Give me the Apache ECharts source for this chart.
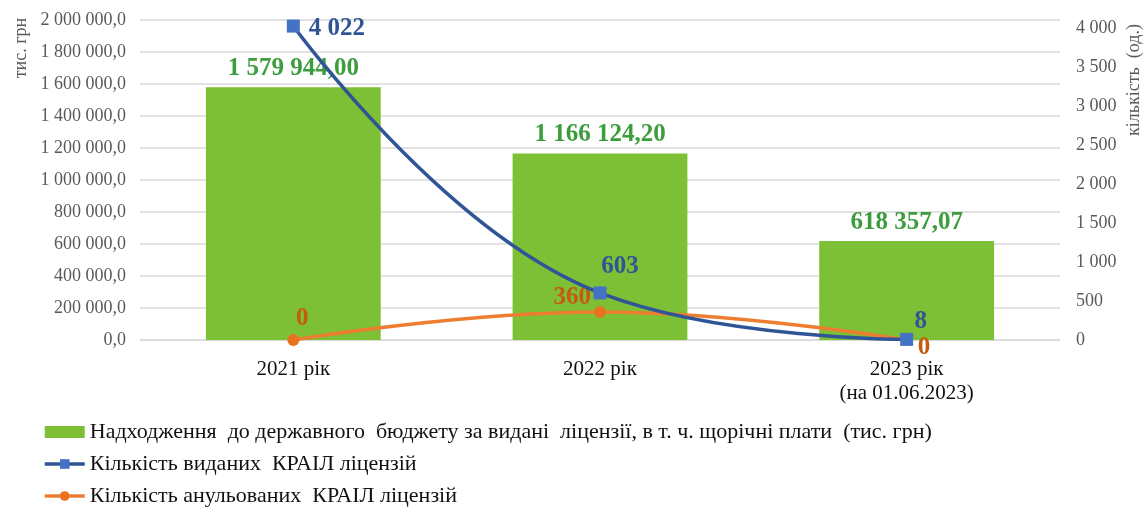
<!DOCTYPE html>
<html>
<head>
<meta charset="utf-8">
<script src="https://cdn.jsdelivr.net/npm/echarts@6/dist/echarts.min.js"></script>
<style>
  html, body { margin: 0; padding: 0; background: #fff; }
  #chart { width: 1144px; height: 510px; }
</style>
</head>
<body>
<div id="chart"></div>
<script>
var categories = ['2021 рік', '2022 рік', '2023 рік\n(на 01.06.2023)'];
var budgetIncome = [1579944.00, 1166124.20, 618357.07];
var issuedLicenses = [4022, 603, 8];
var cancelledLicenses = [0, 360, 0];

var seriesNames = [
    'Надходження  до державного  бюджету за видані  ліцензії, в т. ч. щорічні плати  (тис. грн)',
    'Кількість виданих  КРАІЛ ліцензій',
    'Кількість анульованих  КРАІЛ ліцензій'
];

var serif = '"Liberation Serif", "DejaVu Serif", serif';

function spaced(intStr) {
    return intStr.replace(/\B(?=(\d{3})+(?!\d))/g, ' ');
}

function fmtMoney(v, digits) {
    var parts = v.toFixed(digits).split('.');
    return spaced(parts[0]) + ',' + parts[1];
}

// label placement per point (style only)
var issuedLabelPos = [
    { position: 'right', offset: [4, 2] },
    { position: 'top', offset: [20, -2] },
    { position: 'top', offset: [14, 6] }
];
var cancelledLabelPos = [
    { position: 'top', offset: [9, 2] },
    { position: 'left', offset: [2, -14] },
    { position: 'right', offset: [0, 8] }
];

var chart = echarts.init(document.getElementById('chart'));

var option = {
    animation: false,
    backgroundColor: '#ffffff',
    grid: { left: 140, right: 84, top: 20, height: 320 },
    legend: {
        orient: 'vertical',
        left: 43,
        top: 421,
        height: 89,
        padding: 0,
        itemGap: 10,
        itemWidth: 40,
        itemHeight: 12,
        textStyle: { fontFamily: serif, fontSize: 22, color: '#111' },
        data: [
            { name: seriesNames[0], icon: 'rect', itemStyle: { color: '#7DC035' } },
            { name: seriesNames[1], lineStyle: { width: 3.5, color: '#2F5597' } },
            { name: seriesNames[2], lineStyle: { width: 3.5, color: '#ED7D31' } }
        ]
    },
    xAxis: {
        type: 'category',
        data: categories,
        axisTick: { show: false },
        axisLine: { lineStyle: { color: '#d9d9d9' } },
        axisLabel: {
            fontFamily: serif, fontSize: 21, color: '#111', margin: 17, lineHeight: 24
        }
    },
    yAxis: [
        {
            type: 'value',
            min: 0,
            max: 2000000,
            interval: 200000,
            axisLine: { show: false },
            axisTick: { show: false },
            splitLine: { lineStyle: { color: '#d9d9d9', width: 1.5 } },
            axisLabel: {
                fontFamily: serif, fontSize: 18, color: '#595959', margin: 14,
                formatter: function (v) { return fmtMoney(v, 1); }
            }
        },
        {
            type: 'value',
            min: 0,
            max: 4100,
            interval: 500,
            axisLine: { show: false },
            axisTick: { show: false },
            splitLine: { show: false },
            axisLabel: {
                fontFamily: serif, fontSize: 18, color: '#595959', margin: 16,
                showMaxLabel: false,
                formatter: function (v) { return v % 500 === 0 ? spaced(String(v)) : ''; }
            }
        }
    ],
    series: [
        {
            name: seriesNames[0],
            type: 'bar',
            yAxisIndex: 0,
            barWidth: '57%',
            data: budgetIncome,
            itemStyle: { color: '#7DC035' },
            label: {
                show: true,
                position: 'top',
                distance: 6,
                fontFamily: serif,
                fontSize: 25,
                fontWeight: 'bold',
                color: '#3C9D3C',
                formatter: function (p) { return fmtMoney(p.value, 2); }
            },
            z: 1
        },
        {
            name: seriesNames[1],
            type: 'line',
            yAxisIndex: 1,
            smooth: 0.45,
            symbol: 'rect',
            symbolSize: 13,
            lineStyle: { color: '#2F5597', width: 3.5 },
            itemStyle: { color: '#4472C4' },
            data: issuedLicenses.map(function (v, i) {
                return {
                    value: v,
                    label: {
                        show: true,
                        position: issuedLabelPos[i].position,
                        offset: issuedLabelPos[i].offset,
                        fontFamily: serif, fontSize: 25, fontWeight: 'bold', color: '#2F5597',
                        formatter: function (p) { return spaced(String(p.value)); }
                    }
                };
            }),
            z: 3
        },
        {
            name: seriesNames[2],
            type: 'line',
            yAxisIndex: 1,
            smooth: 0.45,
            symbol: 'circle',
            symbolSize: 12,
            lineStyle: { color: '#ED7D31', width: 3.5 },
            itemStyle: { color: '#E8731E' },
            data: cancelledLicenses.map(function (v, i) {
                return {
                    value: v,
                    label: {
                        show: true,
                        position: cancelledLabelPos[i].position,
                        offset: cancelledLabelPos[i].offset,
                        fontFamily: serif, fontSize: 25, fontWeight: 'bold', color: '#C55A11'
                    }
                };
            }),
            z: 2
        }
    ],
    graphic: [
        {
            type: 'text',
            x: 21,
            y: 48,
            rotation: Math.PI / 2,
            style: {
                text: 'тис. грн',
                fontFamily: serif, fontSize: 18, fill: '#595959',
                align: 'center', verticalAlign: 'middle'
            }
        },
        {
            type: 'text',
            x: 1134,
            y: 80,
            rotation: Math.PI / 2,
            style: {
                text: 'кількість  (од.)',
                fontFamily: serif, fontSize: 18, fill: '#595959',
                align: 'center', verticalAlign: 'middle'
            }
        }
    ]
};

chart.setOption(option);
</script>
</body>
</html>
